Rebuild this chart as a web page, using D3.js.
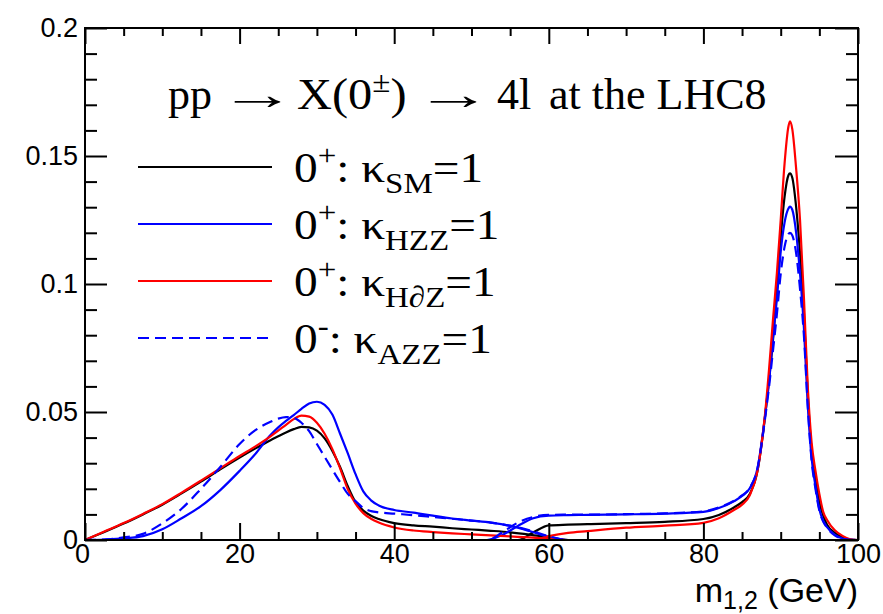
<!DOCTYPE html>
<html>
<head>
<meta charset="utf-8">
<script src="https://cdn.jsdelivr.net/npm/d3@7"></script>
<style>
  body { margin: 0; background: #fff; }
  svg { display: block; }
</style>
</head>
<body>
<script>
// lower-mass lepton pair (m2) distributions
const m2Grid = [0, 2.5, 5, 7.5, 10, 12.5, 15, 17.5, 20, 22, 24, 25, 26, 27, 28, 29, 30, 31, 32, 33, 34, 35, 36, 37, 38, 40, 42.5, 45, 47.5, 50, 52.5, 55, 57.5, 60, 62.5, 100];
const m2SM  = [0, 0.0031, 0.0064, 0.01, 0.0138, 0.0182, 0.0228, 0.0276, 0.0322, 0.0357, 0.039, 0.0405, 0.042, 0.0433, 0.0442, 0.044, 0.0427, 0.0397, 0.0348, 0.0285, 0.021, 0.0148, 0.0115, 0.0095, 0.0082, 0.0066, 0.0057, 0.0052, 0.0046, 0.0041, 0.0036, 0.003, 0.0021, 0.001, 0, 0];
const m2HZZ = [0, 0.0002, 0.0006, 0.0015, 0.0042, 0.0085, 0.0132, 0.0195, 0.027, 0.0335, 0.041, 0.044, 0.0465, 0.0488, 0.0512, 0.0533, 0.054, 0.0528, 0.049, 0.0415, 0.0338, 0.0257, 0.019, 0.0155, 0.0135, 0.0117, 0.0107, 0.0095, 0.0084, 0.0076, 0.0068, 0.0055, 0.0035, 0.0012, 0, 0];
const m2HdZ = [0, 0.0033, 0.0066, 0.0102, 0.014, 0.0185, 0.0232, 0.028, 0.0328, 0.0365, 0.0405, 0.0427, 0.045, 0.0472, 0.0486, 0.0482, 0.0458, 0.0415, 0.0355, 0.028, 0.0198, 0.0142, 0.0105, 0.0083, 0.0068, 0.0049, 0.0037, 0.0031, 0.0026, 0.0022, 0.0018, 0.0014, 0.001, 0.0005, 0, 0];
const m2AZZ = [0, 0.0002, 0.001, 0.0024, 0.0065, 0.0122, 0.02, 0.0285, 0.0375, 0.0428, 0.0462, 0.0474, 0.048, 0.0477, 0.0458, 0.0425, 0.0375, 0.0325, 0.0275, 0.0226, 0.018, 0.0152, 0.0125, 0.0113, 0.0108, 0.0103, 0.0097, 0.009, 0.0083, 0.0076, 0.0068, 0.0056, 0.0038, 0.0015, 0, 0];

// higher-mass lepton pair (m1) distributions
const m1Grid = [0, 52, 54, 56, 58, 60, 62.5, 65, 70, 75, 80, 82, 84, 85, 86, 87, 88, 88.5, 89, 89.5, 90, 90.5, 91, 91.2, 91.5, 92, 92.5, 93, 93.5, 94, 94.5, 95, 95.5, 96, 97, 98, 99, 100];
const m1SM  = [0, 0, 0, 0, 0.003, 0.0057, 0.006, 0.0062, 0.0066, 0.0071, 0.0082, 0.0098, 0.0128, 0.0148, 0.018, 0.027, 0.049, 0.063, 0.078, 0.097, 0.118, 0.134, 0.1425, 0.1432, 0.1415, 0.130, 0.112, 0.089, 0.057, 0.035, 0.024, 0.015, 0.0095, 0.006, 0.0028, 0.0011, 0.0002, 0];
const m1HZZ = [0, 0, 0.002, 0.0055, 0.0085, 0.0095, 0.0097, 0.0098, 0.01, 0.0103, 0.011, 0.0125, 0.0152, 0.0172, 0.0202, 0.028, 0.049, 0.062, 0.079, 0.094, 0.1125, 0.124, 0.1295, 0.1302, 0.129, 0.12, 0.104, 0.083, 0.053, 0.032, 0.021, 0.012, 0.0075, 0.005, 0.002, 0.0006, 0.0001, 0];
const m1HdZ = [0, 0, 0, 0, 0, 0.0015, 0.0028, 0.0035, 0.0048, 0.0056, 0.0067, 0.0085, 0.0118, 0.0138, 0.0175, 0.027, 0.05, 0.067, 0.086, 0.104, 0.125, 0.147, 0.1615, 0.1635, 0.1605, 0.145, 0.125, 0.095, 0.06, 0.038, 0.027, 0.018, 0.011, 0.0078, 0.0038, 0.0016, 0.0003, 0];
const m1AZZ = [0, 0, 0.003, 0.0068, 0.009, 0.0098, 0.0099, 0.0099, 0.0101, 0.0104, 0.0112, 0.0127, 0.0154, 0.0174, 0.0204, 0.028, 0.048, 0.06, 0.074, 0.088, 0.104, 0.1145, 0.1195, 0.12, 0.119, 0.112, 0.098, 0.08, 0.052, 0.031, 0.02, 0.0115, 0.0072, 0.0048, 0.0018, 0.0005, 0.0001, 0];

const xTicks = [0, 20, 40, 60, 80, 100];
const yTicks = [0, 0.05, 0.1, 0.15, 0.2];
const legendSub = ["SM", "HZZ", "H\u2202Z", "AZZ"];
const legendSup = ["+", "+", "+", "-"];

const W = 883, H = 614;
const margin = { top: 28, right: 25, bottom: 74, left: 85 };

const svg = d3.select("body").append("svg")
    .attr("width", W)
    .attr("height", H);

const x = d3.scaleLinear().domain([0, 100]).range([margin.left, W - margin.right]);
const y = d3.scaleLinear().domain([0, 0.2]).range([H - margin.bottom, margin.top]);

const sans = "'Liberation Sans', Arial, Helvetica, sans-serif";
const serif = "'Liberation Serif', 'Times New Roman', serif";

const series = [
    { color: "#000000", dash: null, low: m2SM, high: m1SM },
    { color: "#0000ff", dash: null, low: m2HZZ, high: m1HZZ },
    { color: "#ff0000", dash: null, low: m2HdZ, high: m1HdZ },
    { color: "#0000ff", dash: "11,6", low: m2AZZ, high: m1AZZ }
];

// curves
const line = d3.line()
    .x(d => x(d[0]))
    .y(d => y(d[1]))
    .curve(d3.curveMonotoneX);

series.forEach(s => {
    [[m2Grid, s.low], [m1Grid, s.high]].forEach(([grid, vals]) => {
        svg.append("path")
           .attr("d", line(grid.map((m, i) => [m, vals[i]])))
           .attr("fill", "none")
           .attr("stroke", s.color)
           .attr("stroke-width", 2.2)
           .attr("stroke-dasharray", s.dash);
    });
});

// axes (ticks on all four sides, pointing in)
const x0 = y(0), yTop = y(0.2), xl = x(0), xr = x(100);
const xMinor = d3.range(0, 101, 5).filter(v => v % 20 !== 0);
const yMinor = d3.range(0, 0.2001, 0.01).filter(v => Math.round(v * 100) % 5 !== 0);

function styleAxis(g) {
    g.select(".domain").remove();
    g.selectAll(".tick line").attr("stroke", "#000").attr("stroke-width", 2);
    g.selectAll("text").attr("fill", "#000");
    g.attr("font-family", sans).attr("font-size", 27);
}

svg.append("g").attr("transform", `translate(0,${x0})`)
   .call(d3.axisBottom(x).tickValues(xTicks).tickSizeInner(-17).tickSizeOuter(0).tickPadding(4).tickFormat(d3.format("d")))
   .call(styleAxis)
   .selectAll(".tick text").filter(d => d === 0).attr("dx", -3);
svg.append("g").attr("transform", `translate(0,${x0})`)
   .call(d3.axisBottom(x).tickValues(xMinor).tickSizeInner(-8).tickSizeOuter(0).tickFormat(""))
   .call(styleAxis);
svg.append("g").attr("transform", `translate(0,${yTop})`)
   .call(d3.axisTop(x).tickValues(xTicks).tickSizeInner(-16).tickSizeOuter(0).tickFormat(""))
   .call(styleAxis);
svg.append("g").attr("transform", `translate(0,${yTop})`)
   .call(d3.axisTop(x).tickValues(xMinor).tickSizeInner(-8).tickSizeOuter(0).tickFormat(""))
   .call(styleAxis);

svg.append("g").attr("transform", `translate(${xl},0)`)
   .call(d3.axisLeft(y).tickValues(yTicks).tickSizeInner(-22).tickSizeOuter(0).tickPadding(7).tickFormat(d => String(d)))
   .call(styleAxis);
svg.append("g").attr("transform", `translate(${xl},0)`)
   .call(d3.axisLeft(y).tickValues(yMinor).tickSizeInner(-12).tickSizeOuter(0).tickFormat(""))
   .call(styleAxis);
svg.append("g").attr("transform", `translate(${xr},0)`)
   .call(d3.axisRight(y).tickValues(yTicks).tickSizeInner(-23).tickSizeOuter(0).tickFormat(""))
   .call(styleAxis);
svg.append("g").attr("transform", `translate(${xr},0)`)
   .call(d3.axisRight(y).tickValues(yMinor).tickSizeInner(-12).tickSizeOuter(0).tickFormat(""))
   .call(styleAxis);

// frame
svg.append("rect")
   .attr("x", xl).attr("y", yTop)
   .attr("width", xr - xl).attr("height", x0 - yTop)
   .attr("fill", "none").attr("stroke", "#000").attr("stroke-width", 2);

// x axis title
const xt = svg.append("text")
   .attr("x", xr).attr("y", 602)
   .attr("text-anchor", "end")
   .attr("font-family", sans).attr("font-size", 34);
xt.append("tspan").text("m");
xt.append("tspan").attr("font-size", 25).attr("dy", 7).text("1,2");
xt.append("tspan").attr("dy", -7).text(" (GeV)");

// title
function piece(px, py, str, size, sx) {
    return svg.append("text")
       .attr("transform", `translate(${px},${py}) scale(${sx},1)`)
       .attr("font-family", serif).attr("font-size", size)
       .text(str);
}
const ty = 109;
piece(168, ty, "pp", 44, 1);
piece(219, ty, "\u2192", 44, 1.75);
const xp = piece(297, ty, "X(0", 44, 1.1);
xp.append("tspan").attr("font-size", 30).attr("dy", -17).text("\u00b1");
xp.append("tspan").attr("dy", 17).text(")");
piece(415, ty, "\u2192", 44, 1.75);
piece(497, ty, "4l", 44, 1);
piece(549, ty, "at the LHC8", 44, 1);

// legend
const legend = svg.append("g");
series.forEach((s, i) => {
    const ly = 167 + 57 * i;
    legend.append("line")
       .attr("x1", 138).attr("x2", 272)
       .attr("y1", ly).attr("y2", ly)
       .attr("stroke", s.color).attr("stroke-width", 2.2)
       .attr("stroke-dasharray", s.dash);
    const t = legend.append("text")
       .attr("transform", `translate(294,${ly + 15}) scale(1.1,1)`)
       .attr("font-family", serif).attr("font-size", 43);
    t.append("tspan").text("0");
    t.append("tspan").attr("font-size", 30).attr("dy", -17).text(legendSup[i]);
    t.append("tspan").attr("dy", 17).text(": \u03ba");
    t.append("tspan").attr("font-size", 30).attr("dy", 11).text(legendSub[i]);
    t.append("tspan").attr("dy", -11).text("=1");
});
</script>
</body>
</html>
